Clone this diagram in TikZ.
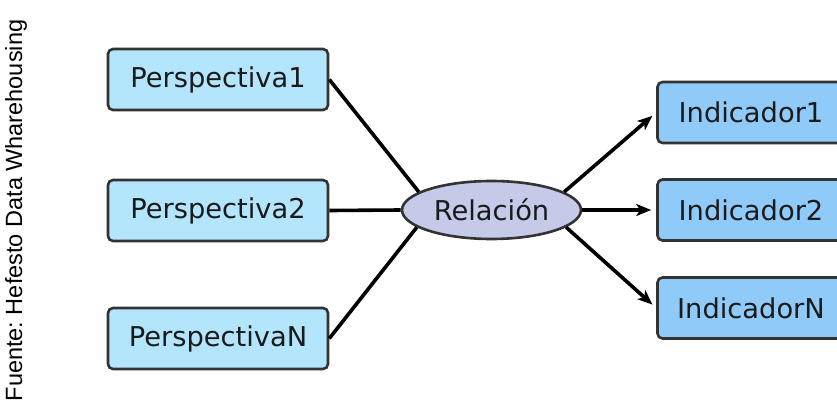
\documentclass[tikz,border=0pt]{standalone}
\usepackage{fontspec}
\setmainfont{DejaVu Sans}
\newfontfamily\srcfont{Liberation Sans}
\usetikzlibrary{shapes.geometric,arrows.meta}
\frenchspacing

\definecolor{perspfill}{HTML}{B3E5FC}
\definecolor{indfill}{HTML}{90CAF9}
\definecolor{relfill}{HTML}{C5CAE9}
\definecolor{edgegray}{HTML}{333333}
\definecolor{txt}{HTML}{1A1A1A}

\tikzset{
  perspbox/.style={draw=edgegray, line width=2.6pt, rounded corners=5pt,
    fill=perspfill, minimum width=220pt, minimum height=61pt, text=txt,
    font=\fontsize{27.3}{32}\selectfont, inner sep=0pt},
  indbox/.style={perspbox, fill=indfill, minimum width=187pt},
  relnode/.style={ellipse, draw=edgegray, line width=2.6pt, fill=relfill,
    minimum width=179pt, minimum height=58pt, text=txt,
    font=\fontsize{27.3}{32}\selectfont, inner sep=0pt},
  link/.style={line width=3.6pt, black},
  flow/.style={link, -{Stealth[length=15pt,width=12pt,inset=4pt]}, shorten >=5pt}
}

\begin{document}
\begin{tikzpicture}[x=1pt,y=-1pt]
  \useasboundingbox (0,0) rectangle (837,404);
  \clip (0,0) rectangle (837,404);

  % source note along the left margin
  \node[rotate=90, anchor=base, font=\srcfont\fontsize{23.5}{26}\selectfont, text=black]
    (src) at (22,210.5) {Fuente: Hefesto Data Wharehousing};

  % perspectives
  \node[perspbox] (p1) at (218,79.5)  {Perspectiva1};
  \node[perspbox] (p2) at (218,210.5) {Perspectiva2};
  \node[perspbox] (pn) at (218,338.5) {PerspectivaN};

  % relation
  \node[relnode] (rel) at (491.5,210) {Relación};

  % indicators
  \node[indbox] (i1) at (751,112.5) {Indicador1};
  \node[indbox] (i2) at (751,210)   {Indicador2};
  \node[indbox] (in) at (751,308)   {IndicadorN};

  % perspectives into the relation
  \draw[link] (p1.east) -- (rel.166);
  \draw[link] (p2.east) -- (rel.west);
  \draw[link] (pn.east) -- (rel.193);

  % relation out to the indicators
  \draw[flow] (rel.14)   -- (i1.west);
  \draw[flow] (rel.east) -- (i2.west);
  \draw[flow] (rel.-13)  -- (in.west);
\end{tikzpicture}
\end{document}
